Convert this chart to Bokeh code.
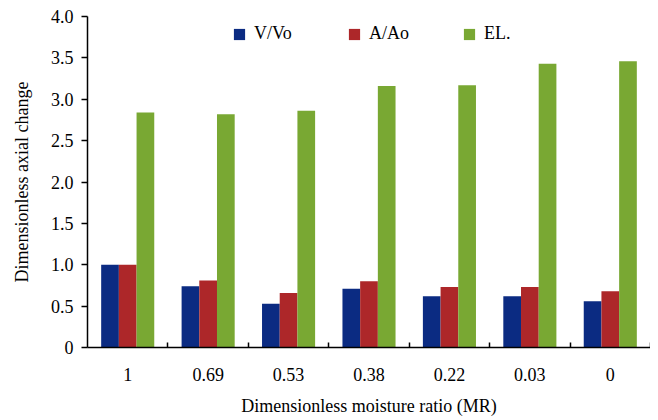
from bokeh.plotting import figure
from bokeh.models import Range1d, FixedTicker, ColumnDataSource, Legend, LegendItem
from bokeh.embed import file_html
from bokeh.resources import INLINE

categories = ["1", "0.69", "0.53", "0.38", "0.22", "0.03", "0"]
v_vo = [1.00, 0.74, 0.53, 0.71, 0.62, 0.62, 0.56]
a_ao = [1.00, 0.81, 0.66, 0.80, 0.73, 0.73, 0.68]
el = [2.84, 2.82, 2.86, 3.16, 3.17, 3.43, 3.46]
series_names = ["V/Vo", "A/Ao", "EL."]
y_ticks = [0, 0.5, 1.0, 1.5, 2.0, 2.5, 3.0, 3.5, 4.0]
y_tick_labels = ["0", "0.5", "1.0", "1.5", "2.0", "2.5", "3.0", "3.5", "4.0"]

colors = ["#0b2b82", "#ad2729", "#79a833"]
FONT = "Liberation Serif"

n = len(categories)
centers = [i + 0.5 for i in range(n)]
bw = 0.22
src = ColumnDataSource(dict(
    xb=[c - bw for c in centers], xr=centers, xg=[c + bw for c in centers],
    v=v_vo, a=a_ao, e=el))

p = figure(width=650, height=418, output_backend="svg", toolbar_location=None,
           x_range=Range1d(0, n), y_range=Range1d(0, 4.0),
           min_border_left=87, min_border_top=16, min_border_right=0, min_border_bottom=0)
p.outline_line_color = None
p.xgrid.grid_line_color = None
p.ygrid.grid_line_color = None

rb = p.vbar(x="xb", top="v", width=bw, source=src, fill_color=colors[0], line_color=None)
rr = p.vbar(x="xr", top="a", width=bw, source=src, fill_color=colors[1], line_color=None)
rg = p.vbar(x="xg", top="e", width=bw, source=src, fill_color=colors[2], line_color=None)

# x axis
xa = p.xaxis[0]
xa.ticker = FixedTicker(ticks=centers, minor_ticks=[float(i) for i in range(1, n + 1)])
xa.major_label_overrides = {c: lab for c, lab in zip(centers, categories)}
xa.major_tick_line_color = None
xa.major_tick_in = 0
xa.major_tick_out = 0
xa.minor_tick_in = 5
xa.minor_tick_out = 0
xa.minor_tick_line_color = "black"
xa.minor_tick_line_width = 1.5
xa.axis_line_color = "black"
xa.axis_line_width = 1.5
xa.major_label_standoff = 20
xa.major_label_text_font = FONT
xa.major_label_text_font_size = "18px"
xa.major_label_text_color = "black"
xa.axis_label = "Dimensionless moisture ratio (MR)"
xa.axis_label_text_font = FONT
xa.axis_label_text_font_size = "18px"
xa.axis_label_text_font_style = "normal"
xa.axis_label_text_color = "black"
xa.axis_label_standoff = 12

# y axis
ya = p.yaxis[0]
ya.ticker = FixedTicker(ticks=y_ticks, minor_ticks=[])
ya.major_label_overrides = {t: lab for t, lab in zip(y_ticks, y_tick_labels)}
ya.major_tick_in = 0
ya.major_tick_out = 6
ya.major_tick_line_width = 1.5
ya.minor_tick_line_color = None
ya.axis_line_color = "black"
ya.axis_line_width = 1.5
ya.major_label_standoff = 8
ya.major_label_text_font = FONT
ya.major_label_text_font_size = "18px"
ya.major_label_text_color = "black"
ya.axis_label = "Dimensionless axial change"
ya.axis_label_text_font = FONT
ya.axis_label_text_font_size = "18px"
ya.axis_label_text_font_style = "normal"
ya.axis_label_text_color = "black"
ya.axis_label_standoff = 16

legend = Legend(items=[LegendItem(label=series_names[0], renderers=[rb]),
                       LegendItem(label=series_names[1], renderers=[rr]),
                       LegendItem(label=series_names[2], renderers=[rg])],
                orientation="horizontal", location=(145, 303),
                glyph_width=14, glyph_height=14, label_standoff=8, label_width=80,
                spacing=13, padding=0, margin=0, border_line_color=None,
                background_fill_alpha=0,
                label_text_font=FONT, label_text_font_size="18px", label_text_color="black")
p.add_layout(legend, "center")

open("out.html", "w").write(file_html(p, INLINE))
